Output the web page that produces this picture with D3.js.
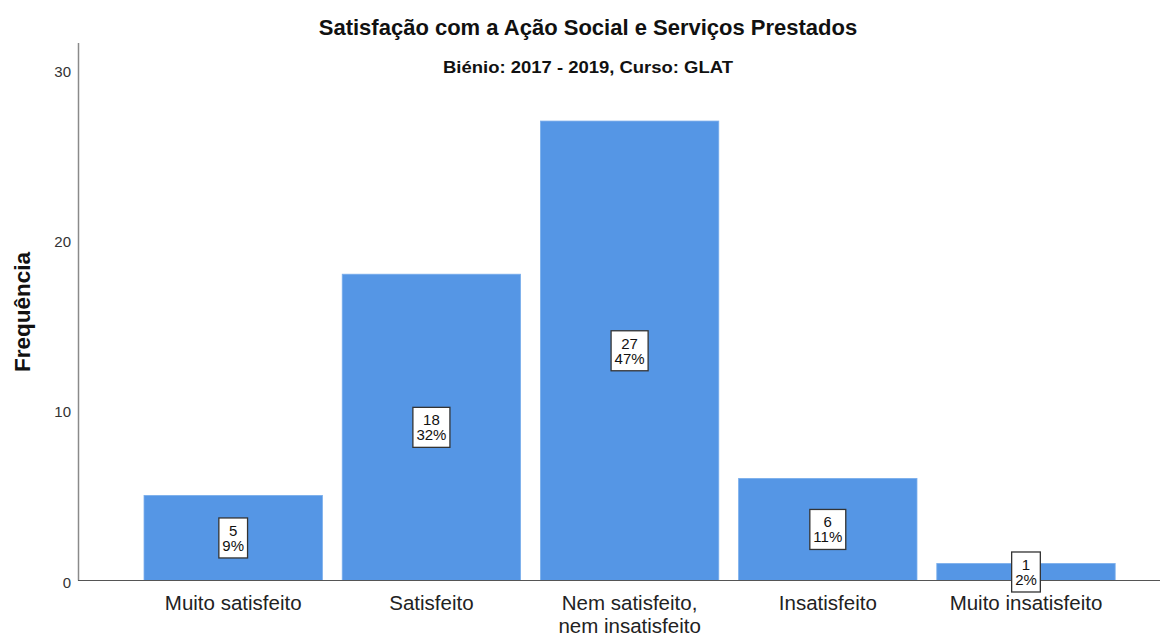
<!DOCTYPE html>
<html><head><meta charset="utf-8">
<script src="https://cdn.jsdelivr.net/npm/d3@7"></script>
<style>body{margin:0;background:#fff}svg{display:block}</style>
</head><body>
<svg id="c" width="1164" height="636"></svg>
<script>
const categories = [["Muito satisfeito"],["Satisfeito"],["Nem satisfeito,","nem insatisfeito"],["Insatisfeito"],["Muito insatisfeito"]];
const counts = [5,18,27,6,1];
const percents = ["9%","32%","47%","11%","2%"];
const yTicks = [0,10,20,30];
const title = "Satisfação com a Ação Social e Serviços Prestados";
const subtitle = "Biénio: 2017 - 2019, Curso: GLAT";
const yLabel = "Frequência";

const svg = d3.select("#c");
const font = "'Liberation Sans', Arial, sans-serif";
const x = d3.scaleBand().domain(d3.range(categories.length)).range([124.2,1135]).padding(0.1);
const y = d3.scaleLinear().domain([0,30]).range([580.5,70]);

// bars
svg.selectAll("rect.bar").data(counts).join("rect")
  .attr("x",(d,i)=>x(i)).attr("width",x.bandwidth())
  .attr("y",d=>y(d)).attr("height",d=>y(0)-y(d))
  .attr("fill","#5596E5").attr("stroke","#7aaeec").attr("stroke-width",0.8);

// axes
svg.append("line").attr("x1",78.5).attr("x2",78.5).attr("y1",43).attr("y2",y(0)).attr("stroke","#8a8a8a").attr("stroke-width",1.5);
svg.append("line").attr("x1",78).attr("x2",1160).attr("y1",y(0)).attr("y2",y(0)).attr("stroke","#555").attr("stroke-width",1.2);
svg.selectAll("text.yt").data(yTicks).join("text")
  .attr("x",71).attr("y",d=>y(d)+7).attr("text-anchor","end")
  .attr("font-family",font).attr("font-size",15).attr("fill","#333").text(d=>d);

// x labels (each line its own text element)
categories.forEach((lines,i)=>{
  lines.forEach((l,j)=>svg.append("text").attr("text-anchor","middle").attr("font-family",font)
    .attr("font-size",20.5).attr("fill","#222")
    .attr("x",x(i)+x.bandwidth()/2).attr("y",610+j*23).text(l));
});

// data labels
counts.forEach((d,i)=>{
  const cx = x(i)+x.bandwidth()/2, cy = y(d/2);
  const g = svg.append("g");
  const t = g.append("text").attr("text-anchor","middle").attr("font-family",font).attr("font-size",15).attr("fill","#111");
  t.append("tspan").attr("x",cx).attr("y",cy-2).text(d);
  t.append("tspan").attr("x",cx).attr("y",cy+13).text(percents[i]);
  const bb = t.node().getBBox();
  const w = bb.width+7;
  g.insert("rect","text").attr("x",cx-w/2).attr("y",cy-20).attr("width",w).attr("height",40)
    .attr("fill","#fff").attr("stroke","#333").attr("stroke-width",1.3);
});

// titles
svg.append("text").attr("x",588).attr("y",35).attr("text-anchor","middle").attr("font-family",font)
  .attr("font-weight","bold").attr("font-size",22).attr("fill","#111").text(title);
svg.append("text").attr("x",588).attr("y",73).attr("text-anchor","middle").attr("font-family",font)
  .attr("font-weight","bold").attr("font-size",16.5).attr("fill","#111")
  .attr("textLength",290).attr("lengthAdjust","spacingAndGlyphs").text(subtitle);
svg.append("text").attr("transform","translate(30,312) rotate(-90)").attr("text-anchor","middle").attr("font-family",font)
  .attr("font-weight","bold").attr("font-size",22.5).attr("fill","#111").text(yLabel);
</script>
</body></html>
